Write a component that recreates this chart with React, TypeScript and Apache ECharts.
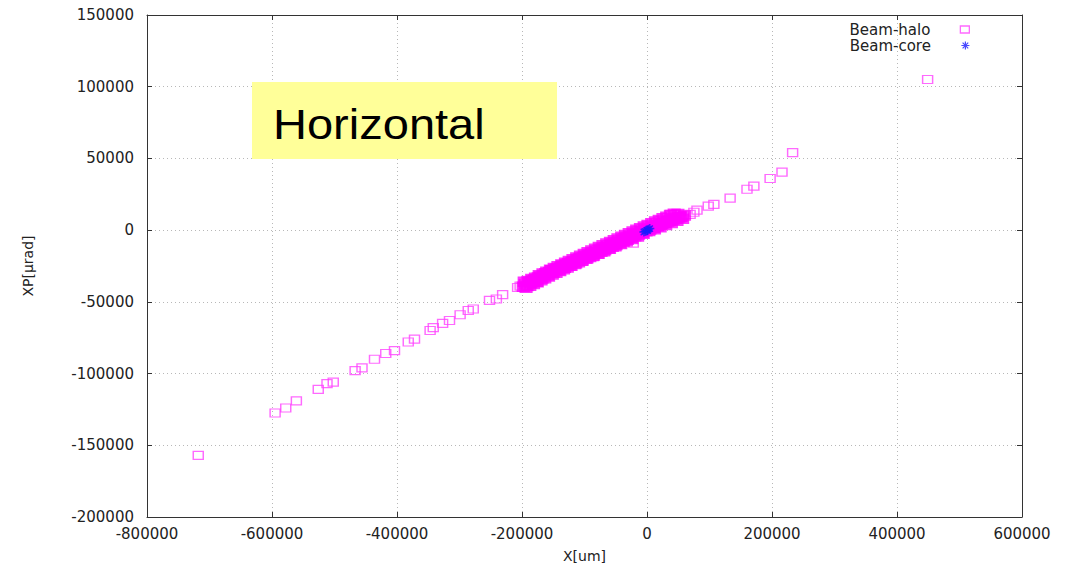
import React, { useEffect, useRef } from "react";
import * as echarts from "echarts";

const xTicks = { min: -800000, max: 600000, interval: 200000 };
const yTicks = { min: -200000, max: 150000, interval: 50000 };

// Beam-halo outliers (x [um], xp [urad])
const haloSparse: number[][] = [
  [-718000, -157000], [-595000, -127500], [-578000, -124000], [-561000, -119000],
  [-526000, -111000], [-512000, -107000], [-502000, -106000], [-467000, -98000],
  [-456000, -96000], [-436000, -90000], [-418000, -86000], [-404000, -84000],
  [-382000, -78000], [-372000, -76000], [-347000, -70000], [-342000, -68000],
  [-327000, -65000], [-316000, -63000], [-299000, -59000], [-286000, -56000],
  [-278000, -55000], [-252000, -49000], [-241000, -48000], [-231000, -45000],
  [-207000, -40000], [-203000, -39000],
  [57000, 9000], [69000, 11000], [75000, 12500], [80000, 14000], [98000, 16700],
  [107000, 18000], [133000, 22300], [160000, 28500], [171000, 30700],
  [197000, 36000], [216000, 40400], [233000, 54000], [449000, 105000],
  [38000, 11000], [-22000, -9000],
];

// Beam-halo dense band near the core (thousands)
const haloBandK: number[][] = [
  [-198, -39.5], [-195, -37.8], [-192, -38.9], [-189, -36.2], [-186, -37.0], [-183, -35.1],
  [-180, -34.6], [-177, -35.9], [-174, -33.0], [-171, -32.4], [-168, -33.8], [-165, -31.2],
  [-162, -30.1], [-159, -31.5], [-156, -29.4], [-153, -28.0], [-150, -29.6], [-147, -27.5],
  [-144, -26.8], [-141, -28.0], [-138, -25.9], [-135, -24.7], [-132, -26.3], [-129, -24.1],
  [-126, -23.0], [-123, -24.6], [-120, -22.2], [-117, -21.5], [-114, -23.0], [-111, -20.6],
  [-108, -19.8], [-105, -21.4], [-102, -19.0], [-99, -18.1], [-96, -19.6], [-93, -17.3],
  [-90, -16.5], [-87, -18.0], [-84, -15.6], [-81, -14.9], [-78, -16.4], [-75, -13.8],
  [-72, -13.1], [-69, -14.7], [-66, -12.0], [-63, -11.4], [-60, -13.0], [-57, -10.2],
  [-54, -9.6], [-51, -11.3], [-48, -8.5], [-45, -7.9], [-42, -9.6], [-39, -6.8],
  [-36, -6.0], [-33, -7.8], [-30, -5.0], [-27, -4.3], [-24, -6.1], [-21, -3.2],
  [-18, -2.7], [-15, -4.4], [-12, -1.6], [-9, -0.8], [-6, -2.5], [-3, 0.1],
  [0, 0.8], [3, -0.6], [6, 1.5], [9, 2.2], [12, 0.7], [15, 3.0],
  [18, 3.6], [21, 2.0], [24, 4.5], [27, 5.1], [30, 3.6], [33, 6.0],
  [36, 6.6], [39, 5.0], [42, 7.4], [45, 8.0], [48, 6.6], [51, 8.8],
  [54, 9.5], [57, 8.0], [60, 10.2],
  [-196.5, -36.0], [-193.5, -40.2], [-190.5, -35.5], [-187.5, -38.8], [-184.5, -34.0],
  [-181.5, -37.5], [-178.5, -33.2], [-175.5, -36.4], [-172.5, -31.5], [-169.5, -35.0],
  [-166.5, -30.3], [-163.5, -33.6], [-160.5, -29.0], [-157.5, -32.4], [-154.5, -27.6],
  [-151.5, -31.0], [-148.5, -26.4], [-145.5, -29.7], [-142.5, -25.2], [-139.5, -28.5],
  [-136.5, -24.0], [-133.5, -27.3], [-130.5, -22.8], [-127.5, -26.0], [-124.5, -21.5],
  [-121.5, -24.9], [-118.5, -20.3], [-115.5, -23.6], [-112.5, -19.1], [-109.5, -22.4],
  [-106.5, -17.9], [-103.5, -21.2], [-100.5, -16.7], [-97.5, -20.0], [-94.5, -15.4],
  [-91.5, -18.8], [-88.5, -14.2], [-85.5, -17.6], [-82.5, -13.0], [-79.5, -16.3],
  [-76.5, -11.8], [-73.5, -15.1], [-70.5, -10.6], [-67.5, -13.9], [-64.5, -9.4],
  [-61.5, -12.7], [-58.5, -8.2], [-55.5, -11.5], [-52.5, -7.0], [-49.5, -10.3],
  [-46.5, -5.8], [-43.5, -9.1], [-40.5, -4.6], [-37.5, -7.9], [-34.5, -3.4],
  [-31.5, -6.7], [-28.5, -2.2], [-25.5, -5.5], [-22.5, -1.0], [-19.5, -4.3],
  [-16.5, 0.2], [-13.5, -3.1], [-10.5, 1.3], [-7.5, -1.9], [-4.5, 2.5],
  [-1.5, -0.8], [1.5, 3.6], [4.5, 0.4], [7.5, 4.8], [10.5, 1.6],
  [13.5, 6.0], [16.5, 2.8], [19.5, 7.1], [22.5, 4.0], [25.5, 8.3],
  [28.5, 5.2], [31.5, 9.4], [34.5, 6.4], [37.5, 10.5], [40.5, 7.6],
  [43.5, 11.4], [46.5, 8.6], [49.5, 11.2], [52.5, 9.4],
];

// Beam-core points
const corePoints: number[][] = [
  [0, 0], [-3000, -900], [2500, 700], [-5000, -1300], [4500, 1100], [1000, -400],
];

const HALO = "#ff44ff";
const BAND = "#ff00ff";
const CORE = "#1a1aff";
const FONT = "DejaVu Sans";
const ASTERISK = "path://M0,5L10,5M5,0L5,10M1.5,1.5L8.5,8.5M8.5,1.5L1.5,8.5";

export default function App() {
  const ref = useRef<HTMLDivElement>(null);
  useEffect(() => {
    if (!ref.current) return;
    const chart = echarts.init(ref.current, null, { renderer: "svg" });
    const band = haloBandK.map(([x, y]) => [x * 1000, y * 1000]);
    const plain = (v: number) => String(v);
    const axisCommon = {
      type: "value" as const,
      axisLine: { show: true, onZero: false, lineStyle: { color: "#333", width: 1 } },
      axisTick: { show: true, inside: true, length: 5, lineStyle: { color: "#333" } },
    };
    const grid = { show: true, lineStyle: { color: "#b8b8b8", type: [1, 3], width: 1 } };
    chart.setOption({
      animation: false,
      backgroundColor: "#fff",
      grid: { left: 147, right: 46, top: 15, bottom: 49, outerBoundsMode: "none" },
      xAxis: [
        {
          ...axisCommon,
          ...xTicks,
          position: "bottom",
          name: "X[um]",
          nameLocation: "middle",
          nameGap: 32,
          nameTextStyle: { fontFamily: FONT, fontSize: 14, color: "#222" },
          axisLabel: { fontFamily: FONT, fontSize: 15, color: "#222", margin: 9, formatter: plain },
          splitLine: grid,
        },
        {
          ...axisCommon,
          ...xTicks,
          position: "top",
          axisLabel: { show: false },
          splitLine: { show: false },
        },
      ],
      yAxis: [
        {
          ...axisCommon,
          ...yTicks,
          position: "left",
          name: "XP[μrad]",
          nameLocation: "middle",
          nameGap: 112,
          nameTextStyle: { fontFamily: FONT, fontSize: 14, color: "#222" },
          axisLabel: { fontFamily: FONT, fontSize: 15, color: "#222", margin: 13, formatter: plain },
          splitLine: grid,
        },
        {
          ...axisCommon,
          ...yTicks,
          position: "right",
          axisLabel: { show: false },
          splitLine: { show: false },
        },
      ],
      legend: [
        {
          data: [
            {
              name: "Beam-halo",
              icon: "rect",
              itemStyle: { color: "rgba(0,0,0,0)", borderColor: HALO, borderWidth: 1.3 },
            },
          ],
          right: 93,
          top: 17,
          align: "right",
          itemWidth: 9,
          itemHeight: 7,
          textStyle: { fontFamily: FONT, fontSize: 15, color: "#222", padding: [0, 25, 0, 0] },
        },
        {
          data: [
            {
              name: "Beam-core",
              icon: ASTERISK,
              itemStyle: { color: "rgba(0,0,0,0)", borderColor: CORE, borderWidth: 1.2 },
            },
          ],
          right: 93,
          top: 33,
          align: "right",
          itemWidth: 9,
          itemHeight: 8,
          textStyle: { fontFamily: FONT, fontSize: 15, color: "#222", padding: [0, 25, 0, 0] },
        },
      ],
      series: [
        {
          name: "Beam-halo",
          type: "scatter",
          data: haloSparse,
          symbol: "rect",
          symbolSize: [10, 8],
          itemStyle: { color: "rgba(0,0,0,0)", borderColor: HALO, borderWidth: 1.3 },
        },
        {
          name: "Beam-halo",
          type: "scatter",
          data: band,
          symbol: "rect",
          symbolSize: [10, 8],
          itemStyle: { color: "rgba(0,0,0,0)", borderColor: BAND, borderWidth: 2.8 },
        },
        {
          name: "Beam-core",
          type: "scatter",
          data: corePoints,
          symbol: ASTERISK,
          symbolSize: 9,
          itemStyle: { color: "rgba(0,0,0,0)", borderColor: CORE, borderWidth: 1.4 },
          z: 3,
        },
      ],
      graphic: [
        {
          type: "rect",
          z: 100,
          shape: { x: 252, y: 82, width: 305, height: 77 },
          style: { fill: "#ffff99" },
        },
        {
          type: "text",
          z: 101,
          x: 273,
          y: 124,
          scaleX: 1.12,
          style: {
            text: "Horizontal",
            fontFamily: "Liberation Sans",
            fontSize: 42,
            fill: "#000",
            verticalAlign: "middle",
          },
        },
      ],
    });
    return () => chart.dispose();
  }, []);
  return (
    <div
      ref={ref}
      style={{ position: "fixed", left: 0, top: 0, width: 1068, height: 566, background: "#fff" }}
    />
  );
}
